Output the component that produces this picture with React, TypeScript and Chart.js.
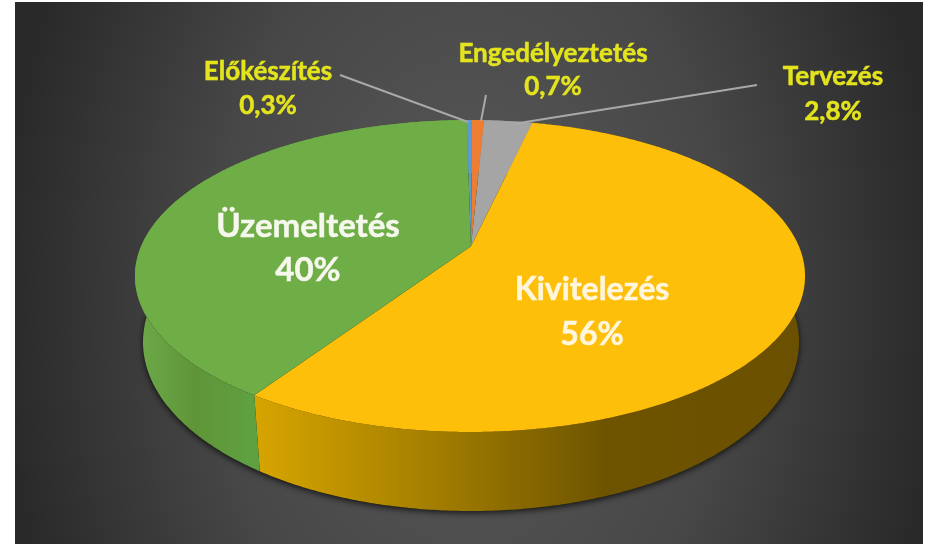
import React, { useEffect, useRef } from "react";
import { Chart, registerables } from "chart.js";

Chart.register(...registerables);

const categories = ["Előkészítés", "Engedélyeztetés", "Tervezés", "Kivitelezés", "Üzemeltetés"];
const values = [0.3, 0.7, 2.8, 55.7, 40.5];
const valueLabels = ["0,3%", "0,7%", "2,8%", "56%", "40%"];
const colors = ["#5B9BD5", "#ED7D31", "#A5A5A5", "#FDBF0A", "#6FAD47"];

const wallStops: [number, string][][] = [
  [[0, "#4a7dab"], [1, "#4a7dab"]],
  [[0, "#b85f25"], [1, "#b85f25"]],
  [[0, "#808080"], [1, "#808080"]],
  [[0.17, "#D9A600"], [0.42, "#A88200"], [0.7, "#6E5400"], [1, "#6A5000"]],
  [[0, "#6DAA49"], [0.09, "#5F9538"], [0.17, "#5FA040"], [1, "#5FA040"]],
];

const top = { cx: 470, cy: 276, rx: 335, ry: 156 };
const bottom = { cx: 471, cy: 342, rx: 328, ry: 169 };
const tilt = -0.19;

const labelSpots = [
  { x: 268, y1: 72, y2: 106, size: 26, color: "#E4E41E" },
  { x: 553, y1: 54, y2: 87, size: 26, color: "#E4E41E" },
  { x: 833, y1: 77, y2: 112, size: 26, color: "#E4E41E" },
  { x: 592, y1: 290, y2: 335, size: 32, color: "#FFF6DC" },
  { x: 308, y1: 226, y2: 270, size: 33, color: "#F6F8EE" },
];
const leaders = [
  [340, 75, 468, 122],
  [486, 95, 481, 121],
  [757, 85, 513, 124],
];

function project(e: typeof top, a: number) {
  const u = Math.cos(a);
  const v = Math.sin(a);
  const d = 1 + tilt * v;
  const k = Math.sqrt(1 - tilt * tilt);
  return { x: e.cx + (e.rx * u * k) / d, y: e.cy + (e.ry * (v + tilt)) / d };
}

function sweep(start: number, end: number) {
  const out: number[] = [];
  const step = Math.PI / 360;
  for (let a = start; a < end; a += step) out.push(a);
  out.push(end);
  return out;
}

const pie3d = {
  id: "pie3d",
  beforeDraw(chart: any) {
    const ctx = chart.ctx;
    ctx.save();
    ctx.fillStyle = "#ffffff";
    ctx.fillRect(0, 0, 932, 544);
    ctx.beginPath();
    ctx.rect(15, 2, 908, 542);
    ctx.clip();
    ctx.translate(470, 300);
    ctx.scale(1, 1.5);
    const g = ctx.createRadialGradient(0, 0, 0, 0, 0, 470);
    g.addColorStop(0, "#5a5a5a");
    g.addColorStop(0.55, "#474747");
    g.addColorStop(1, "#292929");
    ctx.fillStyle = g;
    ctx.fillRect(-600, -400, 1200, 800);
    ctx.restore();
  },
  beforeDatasetDraw(chart: any) {
    const ctx = chart.ctx;
    const arcs = chart.getDatasetMeta(0).data;

    ctx.save();
    ctx.shadowColor = "rgba(0,0,0,0.75)";
    ctx.shadowBlur = 6;
    ctx.shadowOffsetY = 2;
    ctx.fillStyle = "#1c1c10";
    ctx.beginPath();
    ctx.ellipse(bottom.cx, bottom.cy, bottom.rx, bottom.ry, 0, 0, Math.PI * 2);
    ctx.fill();
    ctx.restore();

    arcs.forEach((arc: any, i: number) => {
      const g = ctx.createLinearGradient(135, 0, 806, 0);
      wallStops[i].forEach(([o, c]) => g.addColorStop(o, c));
      ctx.fillStyle = g;
      const angles = sweep(arc.startAngle, arc.endAngle);
      ctx.beginPath();
      angles.forEach((a, n) => {
        const p = project(top, a);
        if (n === 0) ctx.moveTo(p.x, p.y);
        else ctx.lineTo(p.x, p.y);
      });
      [...angles].reverse().forEach((a) => {
        const q = project(bottom, a);
        ctx.lineTo(q.x, q.y);
      });
      ctx.closePath();
      ctx.fill();
    });

    const apex = { x: top.cx + 1, y: top.cy + top.ry * tilt };
    arcs.forEach((arc: any, i: number) => {
      ctx.fillStyle = colors[i];
      ctx.beginPath();
      ctx.moveTo(apex.x, apex.y);
      sweep(arc.startAngle, arc.endAngle).forEach((a) => {
        const p = project(top, a);
        ctx.lineTo(p.x, p.y);
      });
      ctx.closePath();
      ctx.fill();
    });
    return false;
  },
  afterDatasetsDraw(chart: any) {
    const ctx = chart.ctx;
    ctx.save();
    ctx.strokeStyle = "#A9A9A9";
    ctx.lineWidth = 2;
    leaders.forEach(([x0, y0, x1, y1]) => {
      ctx.beginPath();
      ctx.moveTo(x0, y0);
      ctx.lineTo(x1, y1);
      ctx.stroke();
    });
    ctx.textAlign = "center";
    ctx.textBaseline = "middle";
    categories.forEach((name, i) => {
      const s = labelSpots[i];
      ctx.font = `bold ${s.size}px Lato`;
      ctx.fillStyle = s.color;
      ctx.strokeStyle = s.color;
      ctx.lineWidth = 0.5;
      [[name, s.y1], [valueLabels[i], s.y2]].forEach(([t, y]) => {
        ctx.fillText(t as string, s.x, y as number);
        ctx.strokeText(t as string, s.x, y as number);
      });
    });
    ctx.restore();
  },
};

export default function App() {
  const ref = useRef<HTMLCanvasElement>(null);
  useEffect(() => {
    const chart = new Chart(ref.current!, {
      type: "pie",
      data: {
        labels: categories,
        datasets: [{ data: values, backgroundColor: colors, borderWidth: 0 }],
      },
      options: {
        responsive: false,
        animation: false,
        rotation: -0.7,
        plugins: { legend: { display: false }, tooltip: { enabled: false } },
      },
      plugins: [pie3d],
    } as any);
    return () => chart.destroy();
  }, []);
  return (
    <canvas
      ref={ref}
      width={932}
      height={544}
      style={{ position: "fixed", left: 0, top: 0, width: 932, height: 544, filter: "blur(0.6px)" }}
    />
  );
}
